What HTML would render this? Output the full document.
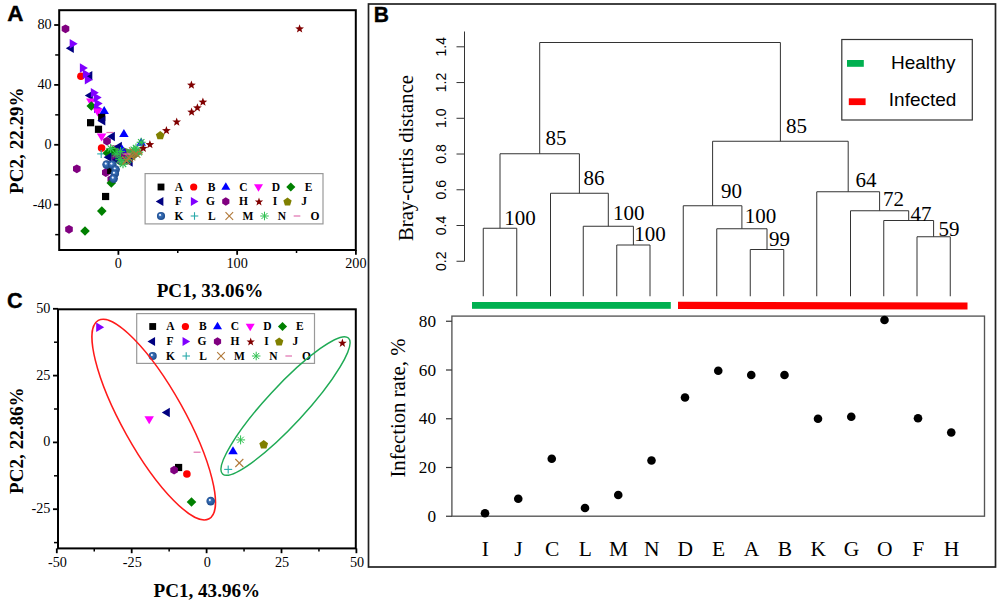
<!DOCTYPE html><html><head><meta charset="utf-8"><style>html,body{margin:0;padding:0;background:#fff;width:1000px;height:606px;overflow:hidden}</style></head><body><svg width="1000" height="606" viewBox="0 0 1000 606" style="position:absolute;left:0;top:0">
<defs><radialGradient id="kg" cx="0.5" cy="0.5" r="0.5" fx="0.36" fy="0.34"><stop offset="0" stop-color="#ffffff"/><stop offset="0.16" stop-color="#dde8ff"/><stop offset="0.34" stop-color="#3a72b8"/><stop offset="1" stop-color="#1d4a8c"/></radialGradient></defs>
<rect x="0" y="0" width="1000" height="606" fill="#fff"/>
<text transform="translate(7.3 20.8) scale(1.07 1.09)" x="0" y="0" font-family='"Liberation Sans", sans-serif' font-size="21" font-weight="bold" stroke="#000" stroke-width="0.35">A</text>
<line x1="118.4" y1="250.0" x2="118.4" y2="254.8" stroke="#000" stroke-width="1.8"/>
<text x="118.4" y="267.8" font-family='"Liberation Serif", serif' font-size="14.2" font-weight="normal" text-anchor="middle" fill="#000">0</text>
<line x1="237.15" y1="250.0" x2="237.15" y2="254.8" stroke="#000" stroke-width="1.8"/>
<text x="237.15" y="267.8" font-family='"Liberation Serif", serif' font-size="14.2" font-weight="normal" text-anchor="middle" fill="#000">100</text>
<line x1="355.9" y1="250.0" x2="355.9" y2="254.8" stroke="#000" stroke-width="1.8"/>
<text x="355.9" y="267.8" font-family='"Liberation Serif", serif' font-size="14.2" font-weight="normal" text-anchor="middle" fill="#000">200</text>
<line x1="177.775" y1="250.0" x2="177.775" y2="253.0" stroke="#000" stroke-width="1.5"/>
<line x1="296.525" y1="250.0" x2="296.525" y2="253.0" stroke="#000" stroke-width="1.5"/>
<line x1="54.2" y1="25.0" x2="59.2" y2="25.0" stroke="#000" stroke-width="1.8"/>
<text x="51.7" y="28.9" font-family='"Liberation Serif", serif' font-size="14.2" font-weight="normal" text-anchor="end" fill="#000">80</text>
<line x1="54.2" y1="84.9" x2="59.2" y2="84.9" stroke="#000" stroke-width="1.8"/>
<text x="51.7" y="88.80000000000001" font-family='"Liberation Serif", serif' font-size="14.2" font-weight="normal" text-anchor="end" fill="#000">40</text>
<line x1="54.2" y1="144.8" x2="59.2" y2="144.8" stroke="#000" stroke-width="1.8"/>
<text x="51.7" y="148.70000000000002" font-family='"Liberation Serif", serif' font-size="14.2" font-weight="normal" text-anchor="end" fill="#000">0</text>
<line x1="54.2" y1="204.70000000000002" x2="59.2" y2="204.70000000000002" stroke="#000" stroke-width="1.8"/>
<text x="51.7" y="208.60000000000002" font-family='"Liberation Serif", serif' font-size="14.2" font-weight="normal" text-anchor="end" fill="#000">-40</text>
<line x1="55.2" y1="54.95" x2="59.2" y2="54.95" stroke="#000" stroke-width="1.5"/>
<line x1="55.2" y1="114.85000000000001" x2="59.2" y2="114.85000000000001" stroke="#000" stroke-width="1.5"/>
<line x1="55.2" y1="174.75" x2="59.2" y2="174.75" stroke="#000" stroke-width="1.5"/>
<line x1="55.2" y1="234.65000000000003" x2="59.2" y2="234.65000000000003" stroke="#000" stroke-width="1.5"/>
<rect x="59.20" y="10.20" width="296.60" height="239.80" fill="none" stroke="#000" stroke-width="2"/>
<text x="156.7" y="296.7" font-family='"Liberation Serif", serif' font-size="19.1" font-weight="bold" text-anchor="start" fill="#000">PC1, 33.06%</text>
<text x="22.9" y="193.9" font-family='"Liberation Serif", serif' font-size="19.1" font-weight="bold" text-anchor="start" fill="#000" transform="rotate(-90 22.9 193.9)">PC2, 22.29%</text>
<polygon points="65.50,33.20 61.69,31.00 61.69,26.60 65.50,24.40 69.31,26.60 69.31,31.00" fill="#800080"/>
<polygon points="65.80,48.30 73.80,43.55 73.80,53.05" fill="#000080"/>
<polygon points="77.70,43.80 69.70,39.05 69.70,48.55" fill="#8000ff"/>
<circle cx="80.90" cy="76.30" r="3.80" fill="#ff0000"/>
<polygon points="87.90,67.90 79.90,63.15 79.90,72.65" fill="#8000ff"/>
<polygon points="84.30,75.80 92.30,71.05 92.30,80.55" fill="#000080"/>
<polygon points="90.80,73.90 82.80,69.15 82.80,78.65" fill="#8000ff"/>
<polygon points="92.80,79.80 84.80,75.05 84.80,84.55" fill="#8000ff"/>
<polygon points="84.80,95.60 92.80,90.85 92.80,100.35" fill="#000080"/>
<polygon points="98.80,92.70 90.80,87.95 90.80,97.45" fill="#8000ff"/>
<polygon points="90.80,106.60 95.55,98.60 86.05,98.60" fill="#ff00ff"/>
<polygon points="101.70,97.60 93.70,92.85 93.70,102.35" fill="#8000ff"/>
<polygon points="102.70,103.60 94.70,98.85 94.70,108.35" fill="#8000ff"/>
<polygon points="91.30,101.20 96.10,106.00 91.30,110.80 86.50,106.00" fill="#008000"/>
<polygon points="102.00,108.50 94.00,103.75 94.00,113.25" fill="#8000ff"/>
<polygon points="97.70,116.50 102.45,108.50 92.95,108.50" fill="#ff00ff"/>
<polygon points="104.20,106.00 108.95,114.00 99.45,114.00" fill="#0000ff"/>
<rect x="98.10" y="113.80" width="7.20" height="7.20" fill="#000000"/>
<polygon points="97.30,120.80 105.30,116.05 105.30,125.55" fill="#000080"/>
<rect x="87.00" y="119.10" width="7.20" height="7.20" fill="#000000"/>
<rect x="94.90" y="125.70" width="7.20" height="7.20" fill="#000000"/>
<line x1="106.4" y1="132.5" x2="113.4" y2="132.5" stroke="#e070b0" stroke-width="1.2"/>
<polygon points="101.60,141.60 106.35,133.60 96.85,133.60" fill="#ff00ff"/>
<polygon points="106.90,136.60 114.90,131.85 114.90,141.35" fill="#000080"/>
<polygon points="123.90,129.10 128.65,137.10 119.15,137.10" fill="#0000ff"/>
<polygon points="107.00,145.50 103.19,143.30 103.19,138.90 107.00,136.70 110.81,138.90 110.81,143.30" fill="#800080"/>
<circle cx="101.60" cy="148.10" r="3.80" fill="#ff0000"/>
<line x1="97.2" y1="153.9" x2="105.2" y2="153.9" stroke="#2aaaaa" stroke-width="1.1"/>
<line x1="101.2" y1="149.9" x2="101.2" y2="157.9" stroke="#2aaaaa" stroke-width="1.1"/>
<polygon points="76.80,173.20 72.99,171.00 72.99,166.60 76.80,164.40 80.61,166.60 80.61,171.00" fill="#800080"/>
<polygon points="110.00,147.00 119.80,146.00 129.70,149.50 133.80,148.50 139.60,149.00 141.50,152.20 137.90,156.40 131.30,161.50 126.40,164.50 119.80,165.50 115.60,162.50 111.50,159.50" fill="#4a9a40"/>
<polygon points="124.00,163.00 140.00,151.00 142.00,153.00 127.00,165.00" fill="#8a7a30"/>
<line x1="110.5" y1="145.6" x2="117.5" y2="145.6" stroke="#e070b0" stroke-width="1.2"/>
<polygon points="113.90,146.50 121.90,141.75 121.90,151.25" fill="#000080"/>
<polygon points="107.40,148.20 112.20,153.00 107.40,157.80 102.60,153.00" fill="#008000"/>
<polygon points="112.70,146.60 117.50,151.40 112.70,156.20 107.90,151.40" fill="#008000"/>
<polygon points="103.60,157.20 111.60,152.45 111.60,161.95" fill="#000080"/>
<polygon points="122.20,155.80 118.39,153.60 118.39,149.20 122.20,147.00 126.01,149.20 126.01,153.60" fill="#800080"/>
<polygon points="115.60,162.40 111.79,160.20 111.79,155.80 115.60,153.60 119.41,155.80 119.41,160.20" fill="#800080"/>
<polygon points="124.70,160.80 120.89,158.60 120.89,154.20 124.70,152.00 128.51,154.20 128.51,158.60" fill="#800080"/>
<polygon points="124.70,162.10 132.70,157.35 132.70,166.85" fill="#000080"/>
<polygon points="122.00,144.50 126.75,152.50 117.25,152.50" fill="#0000ff"/>
<polygon points="112.00,160.00 120.00,155.25 120.00,164.75" fill="#000080"/>
<line x1="117.5" y1="162" x2="124.5" y2="162" stroke="#e070b0" stroke-width="1.2"/>
<line x1="106.2" y1="148.5" x2="115.2" y2="148.5" stroke="#2ec050" stroke-width="1.15"/>
<line x1="107.51801948466054" y1="145.31801948466054" x2="113.88198051533946" y2="151.68198051533946" stroke="#2ec050" stroke-width="1.15"/>
<line x1="110.7" y1="144.0" x2="110.7" y2="153.0" stroke="#2ec050" stroke-width="1.15"/>
<line x1="113.88198051533946" y1="145.31801948466054" x2="107.51801948466054" y2="151.68198051533946" stroke="#2ec050" stroke-width="1.15"/>
<line x1="116.1" y1="151.4" x2="125.1" y2="151.4" stroke="#2ec050" stroke-width="1.15"/>
<line x1="117.41801948466053" y1="148.21801948466054" x2="123.78198051533946" y2="154.58198051533947" stroke="#2ec050" stroke-width="1.15"/>
<line x1="120.6" y1="146.9" x2="120.6" y2="155.9" stroke="#2ec050" stroke-width="1.15"/>
<line x1="123.78198051533946" y1="148.21801948466054" x2="117.41801948466053" y2="154.58198051533947" stroke="#2ec050" stroke-width="1.15"/>
<line x1="129.3" y1="149.8" x2="138.3" y2="149.8" stroke="#2ec050" stroke-width="1.15"/>
<line x1="130.61801948466055" y1="146.61801948466055" x2="136.98198051533947" y2="152.98198051533947" stroke="#2ec050" stroke-width="1.15"/>
<line x1="133.8" y1="145.3" x2="133.8" y2="154.3" stroke="#2ec050" stroke-width="1.15"/>
<line x1="136.98198051533947" y1="146.61801948466055" x2="130.61801948466055" y2="152.98198051533947" stroke="#2ec050" stroke-width="1.15"/>
<line x1="134.2" y1="152.2" x2="143.2" y2="152.2" stroke="#2ec050" stroke-width="1.15"/>
<line x1="135.51801948466053" y1="149.01801948466053" x2="141.88198051533945" y2="155.38198051533945" stroke="#2ec050" stroke-width="1.15"/>
<line x1="138.7" y1="147.7" x2="138.7" y2="156.7" stroke="#2ec050" stroke-width="1.15"/>
<line x1="141.88198051533945" y1="149.01801948466053" x2="135.51801948466053" y2="155.38198051533945" stroke="#2ec050" stroke-width="1.15"/>
<line x1="115.3" y1="159.7" x2="124.3" y2="159.7" stroke="#2ec050" stroke-width="1.15"/>
<line x1="116.61801948466054" y1="156.51801948466053" x2="122.98198051533946" y2="162.88198051533945" stroke="#2ec050" stroke-width="1.15"/>
<line x1="119.8" y1="155.2" x2="119.8" y2="164.2" stroke="#2ec050" stroke-width="1.15"/>
<line x1="122.98198051533946" y1="156.51801948466053" x2="116.61801948466054" y2="162.88198051533945" stroke="#2ec050" stroke-width="1.15"/>
<line x1="123.5" y1="159.7" x2="132.5" y2="159.7" stroke="#2ec050" stroke-width="1.15"/>
<line x1="124.81801948466054" y1="156.51801948466053" x2="131.18198051533946" y2="162.88198051533945" stroke="#2ec050" stroke-width="1.15"/>
<line x1="128.0" y1="155.2" x2="128.0" y2="164.2" stroke="#2ec050" stroke-width="1.15"/>
<line x1="131.18198051533946" y1="156.51801948466053" x2="124.81801948466054" y2="162.88198051533945" stroke="#2ec050" stroke-width="1.15"/>
<line x1="118.5" y1="163.8" x2="127.5" y2="163.8" stroke="#2ec050" stroke-width="1.15"/>
<line x1="119.81801948466054" y1="160.61801948466055" x2="126.18198051533946" y2="166.98198051533947" stroke="#2ec050" stroke-width="1.15"/>
<line x1="123.0" y1="159.3" x2="123.0" y2="168.3" stroke="#2ec050" stroke-width="1.15"/>
<line x1="126.18198051533946" y1="160.61801948466055" x2="119.81801948466054" y2="166.98198051533947" stroke="#2ec050" stroke-width="1.15"/>
<line x1="122.4" y1="156.5" x2="130.4" y2="164.5" stroke="#b07838" stroke-width="1.1"/>
<line x1="122.4" y1="164.5" x2="130.4" y2="156.5" stroke="#b07838" stroke-width="1.1"/>
<line x1="127.30000000000001" y1="152.4" x2="135.3" y2="160.4" stroke="#b07838" stroke-width="1.1"/>
<line x1="127.30000000000001" y1="160.4" x2="135.3" y2="152.4" stroke="#b07838" stroke-width="1.1"/>
<line x1="132.3" y1="149.9" x2="140.3" y2="157.9" stroke="#b07838" stroke-width="1.1"/>
<line x1="132.3" y1="157.9" x2="140.3" y2="149.9" stroke="#b07838" stroke-width="1.1"/>
<line x1="129.0" y1="147.4" x2="137.0" y2="155.4" stroke="#b07838" stroke-width="1.1"/>
<line x1="129.0" y1="155.4" x2="137.0" y2="147.4" stroke="#b07838" stroke-width="1.1"/>
<line x1="125.0" y1="154.0" x2="133.0" y2="162.0" stroke="#b07838" stroke-width="1.1"/>
<line x1="125.0" y1="162.0" x2="133.0" y2="154.0" stroke="#b07838" stroke-width="1.1"/>
<line x1="134.5" y1="146.5" x2="142.5" y2="154.5" stroke="#b07838" stroke-width="1.1"/>
<line x1="134.5" y1="154.5" x2="142.5" y2="146.5" stroke="#b07838" stroke-width="1.1"/>
<line x1="131.5" y1="148.0" x2="140.5" y2="148.0" stroke="#2ec050" stroke-width="1.15"/>
<line x1="132.81801948466054" y1="144.81801948466054" x2="139.18198051533946" y2="151.18198051533946" stroke="#2ec050" stroke-width="1.15"/>
<line x1="136.0" y1="143.5" x2="136.0" y2="152.5" stroke="#2ec050" stroke-width="1.15"/>
<line x1="139.18198051533946" y1="144.81801948466054" x2="132.81801948466054" y2="151.18198051533946" stroke="#2ec050" stroke-width="1.15"/>
<line x1="111.5" y1="154.0" x2="120.5" y2="154.0" stroke="#2ec050" stroke-width="1.15"/>
<line x1="112.81801948466054" y1="150.81801948466054" x2="119.18198051533946" y2="157.18198051533946" stroke="#2ec050" stroke-width="1.15"/>
<line x1="116.0" y1="149.5" x2="116.0" y2="158.5" stroke="#2ec050" stroke-width="1.15"/>
<line x1="119.18198051533946" y1="150.81801948466054" x2="112.81801948466054" y2="157.18198051533946" stroke="#2ec050" stroke-width="1.15"/>
<line x1="123.5" y1="154" x2="130.5" y2="154" stroke="#e070b0" stroke-width="1.2"/>
<polygon points="105.80,176.90 101.99,174.70 101.99,170.30 105.80,168.10 109.61,170.30 109.61,174.70" fill="#800080"/>
<polygon points="111.30,183.70 107.49,181.50 107.49,177.10 111.30,174.90 115.11,177.10 115.11,181.50" fill="#800080"/>
<polygon points="111.30,178.20 116.10,183.00 111.30,187.80 106.50,183.00" fill="#008000"/>
<rect x="107.10" y="166.80" width="7.20" height="7.20" fill="#000000"/>
<circle cx="106.60" cy="164.60" r="4.30" fill="url(#kg)"/>
<circle cx="112.30" cy="164.60" r="4.30" fill="url(#kg)"/>
<circle cx="115.60" cy="169.60" r="4.30" fill="url(#kg)"/>
<circle cx="114.80" cy="173.70" r="4.30" fill="url(#kg)"/>
<circle cx="113.60" cy="178.60" r="4.30" fill="url(#kg)"/>
<rect x="102.00" y="192.90" width="7.20" height="7.20" fill="#000000"/>
<polygon points="101.80,206.30 106.60,211.10 101.80,215.90 97.00,211.10" fill="#008000"/>
<polygon points="69.00,233.70 65.19,231.50 65.19,227.10 69.00,224.90 72.81,227.10 72.81,231.50" fill="#800080"/>
<polygon points="85.00,226.20 89.80,231.00 85.00,235.80 80.20,231.00" fill="#008000"/>
<polygon points="141.20,137.80 145.95,145.80 136.45,145.80" fill="#0000ff"/>
<line x1="136.7" y1="142.3" x2="145.7" y2="142.3" stroke="#2ec050" stroke-width="1.15"/>
<line x1="138.01801948466053" y1="139.11801948466055" x2="144.38198051533945" y2="145.48198051533947" stroke="#2ec050" stroke-width="1.15"/>
<line x1="141.2" y1="137.8" x2="141.2" y2="146.8" stroke="#2ec050" stroke-width="1.15"/>
<line x1="144.38198051533945" y1="139.11801948466055" x2="138.01801948466053" y2="145.48198051533947" stroke="#2ec050" stroke-width="1.15"/>
<polygon points="143.30,143.80 144.42,146.86 147.67,146.98 145.11,148.99 146.00,152.12 143.30,150.30 140.60,152.12 141.49,148.99 138.93,146.98 142.18,146.86" fill="#800000"/>
<polygon points="149.90,140.00 151.02,143.06 154.27,143.18 151.71,145.19 152.60,148.32 149.90,146.50 147.20,148.32 148.09,145.19 145.53,143.18 148.78,143.06" fill="#800000"/>
<polygon points="160.20,131.00 164.57,134.18 162.90,139.32 157.50,139.32 155.83,134.18" fill="#808000"/>
<polygon points="166.40,126.00 167.52,129.06 170.77,129.18 168.21,131.19 169.10,134.32 166.40,132.50 163.70,134.32 164.59,131.19 162.03,129.18 165.28,129.06" fill="#800000"/>
<polygon points="176.70,117.40 177.82,120.46 181.07,120.58 178.51,122.59 179.40,125.72 176.70,123.90 174.00,125.72 174.89,122.59 172.33,120.58 175.58,120.46" fill="#800000"/>
<polygon points="191.60,107.50 192.72,110.56 195.97,110.68 193.41,112.69 194.30,115.82 191.60,114.00 188.90,115.82 189.79,112.69 187.23,110.68 190.48,110.56" fill="#800000"/>
<polygon points="197.40,103.20 198.52,106.26 201.77,106.38 199.21,108.39 200.10,111.52 197.40,109.70 194.70,111.52 195.59,108.39 193.03,106.38 196.28,106.26" fill="#800000"/>
<polygon points="202.90,97.50 204.02,100.56 207.27,100.68 204.71,102.69 205.60,105.82 202.90,104.00 200.20,105.82 201.09,102.69 198.53,100.68 201.78,100.56" fill="#800000"/>
<polygon points="191.40,80.50 192.52,83.56 195.77,83.68 193.21,85.69 194.10,88.82 191.40,87.00 188.70,88.82 189.59,85.69 187.03,83.68 190.28,83.56" fill="#800000"/>
<polygon points="299.60,24.30 300.72,27.36 303.97,27.48 301.41,29.49 302.30,32.62 299.60,30.80 296.90,32.62 297.79,29.49 295.23,27.48 298.48,27.36" fill="#800000"/>
<rect x="145.10" y="173.60" width="177.90" height="50.30" fill="#fff" stroke="#999" stroke-width="1.2"/>
<rect x="157.58" y="183.58" width="6.84" height="6.84" fill="#000000"/>
<text x="179" y="190.6" font-family='"Liberation Serif", serif' font-size="11.5" font-weight="bold" text-anchor="middle" fill="#000">A</text>
<circle cx="193.70" cy="187.00" r="3.61" fill="#ff0000"/>
<text x="211.5" y="190.6" font-family='"Liberation Serif", serif' font-size="11.5" font-weight="bold" text-anchor="middle" fill="#000">B</text>
<polygon points="225.80,182.25 230.31,189.85 221.29,189.85" fill="#0000ff"/>
<text x="243.5" y="190.6" font-family='"Liberation Serif", serif' font-size="11.5" font-weight="bold" text-anchor="middle" fill="#000">C</text>
<polygon points="258.50,191.75 263.01,184.15 253.99,184.15" fill="#ff00ff"/>
<text x="276" y="190.6" font-family='"Liberation Serif", serif' font-size="11.5" font-weight="bold" text-anchor="middle" fill="#000">D</text>
<polygon points="290.80,182.44 295.36,187.00 290.80,191.56 286.24,187.00" fill="#008000"/>
<text x="308.5" y="190.6" font-family='"Liberation Serif", serif' font-size="11.5" font-weight="bold" text-anchor="middle" fill="#000">E</text>
<polygon points="155.75,201.50 163.35,196.99 163.35,206.01" fill="#000080"/>
<text x="178.5" y="205.1" font-family='"Liberation Serif", serif' font-size="11.5" font-weight="bold" text-anchor="middle" fill="#000">F</text>
<polygon points="198.45,201.50 190.85,196.99 190.85,206.01" fill="#8000ff"/>
<text x="210.5" y="205.1" font-family='"Liberation Serif", serif' font-size="11.5" font-weight="bold" text-anchor="middle" fill="#000">G</text>
<polygon points="225.80,205.68 222.18,203.59 222.18,199.41 225.80,197.32 229.42,199.41 229.42,203.59" fill="#800080"/>
<text x="243.5" y="205.1" font-family='"Liberation Serif", serif' font-size="11.5" font-weight="bold" text-anchor="middle" fill="#000">H</text>
<polygon points="259.00,197.51 260.06,200.42 263.16,200.53 260.72,202.44 261.57,205.42 259.00,203.69 256.43,205.42 257.28,202.44 254.84,200.53 257.94,200.42" fill="#800000"/>
<text x="275" y="205.1" font-family='"Liberation Serif", serif' font-size="11.5" font-weight="bold" text-anchor="middle" fill="#000">I</text>
<polygon points="287.50,197.51 291.66,200.53 290.07,205.42 284.93,205.42 283.34,200.53" fill="#808000"/>
<text x="304" y="205.1" font-family='"Liberation Serif", serif' font-size="11.5" font-weight="bold" text-anchor="middle" fill="#000">J</text>
<circle cx="161.00" cy="216.00" r="4.08" fill="url(#kg)"/>
<text x="179" y="219.6" font-family='"Liberation Serif", serif' font-size="11.5" font-weight="bold" text-anchor="middle" fill="#000">K</text>
<line x1="190.7" y1="216" x2="198.3" y2="216" stroke="#2aaaaa" stroke-width="1.1"/>
<line x1="194.5" y1="212.2" x2="194.5" y2="219.8" stroke="#2aaaaa" stroke-width="1.1"/>
<text x="211.8" y="219.6" font-family='"Liberation Serif", serif' font-size="11.5" font-weight="bold" text-anchor="middle" fill="#000">L</text>
<line x1="225.5" y1="212.2" x2="233.10000000000002" y2="219.8" stroke="#b07838" stroke-width="1.1"/>
<line x1="225.5" y1="219.8" x2="233.10000000000002" y2="212.2" stroke="#b07838" stroke-width="1.1"/>
<text x="248" y="219.6" font-family='"Liberation Serif", serif' font-size="11.5" font-weight="bold" text-anchor="middle" fill="#000">M</text>
<line x1="260.225" y1="216.0" x2="268.775" y2="216.0" stroke="#2ec050" stroke-width="1.0"/>
<line x1="261.4771185104275" y1="212.97711851042752" x2="267.5228814895725" y2="219.02288148957248" stroke="#2ec050" stroke-width="1.0"/>
<line x1="264.5" y1="211.725" x2="264.5" y2="220.275" stroke="#2ec050" stroke-width="1.0"/>
<line x1="267.5228814895725" y1="212.97711851042752" x2="261.4771185104275" y2="219.02288148957248" stroke="#2ec050" stroke-width="1.0"/>
<text x="282" y="219.6" font-family='"Liberation Serif", serif' font-size="11.5" font-weight="bold" text-anchor="middle" fill="#000">N</text>
<line x1="293.675" y1="216" x2="300.325" y2="216" stroke="#e070b0" stroke-width="1.2"/>
<text x="315" y="219.6" font-family='"Liberation Serif", serif' font-size="11.5" font-weight="bold" text-anchor="middle" fill="#000">O</text>
<text transform="translate(7.1 308.0) scale(1.03 1.08)" x="0" y="0" font-family='"Liberation Sans", sans-serif' font-size="21" font-weight="bold" stroke="#000" stroke-width="0.35">C</text>
<line x1="56.79999999999998" y1="548.4" x2="56.79999999999998" y2="553.1999999999999" stroke="#000" stroke-width="1.8"/>
<text x="57.399999999999984" y="566.9" font-family='"Liberation Serif", serif' font-size="14.2" font-weight="normal" text-anchor="middle" fill="#000">-50</text>
<line x1="131.7" y1="548.4" x2="131.7" y2="553.1999999999999" stroke="#000" stroke-width="1.8"/>
<text x="132.29999999999998" y="566.9" font-family='"Liberation Serif", serif' font-size="14.2" font-weight="normal" text-anchor="middle" fill="#000">-25</text>
<line x1="206.6" y1="548.4" x2="206.6" y2="553.1999999999999" stroke="#000" stroke-width="1.8"/>
<text x="207.2" y="566.9" font-family='"Liberation Serif", serif' font-size="14.2" font-weight="normal" text-anchor="middle" fill="#000">0</text>
<line x1="281.5" y1="548.4" x2="281.5" y2="553.1999999999999" stroke="#000" stroke-width="1.8"/>
<text x="282.1" y="566.9" font-family='"Liberation Serif", serif' font-size="14.2" font-weight="normal" text-anchor="middle" fill="#000">25</text>
<line x1="356.4" y1="548.4" x2="356.4" y2="553.1999999999999" stroke="#000" stroke-width="1.8"/>
<text x="357.0" y="566.9" font-family='"Liberation Serif", serif' font-size="14.2" font-weight="normal" text-anchor="middle" fill="#000">50</text>
<line x1="94.25" y1="548.4" x2="94.25" y2="551.4" stroke="#000" stroke-width="1.5"/>
<line x1="169.14999999999998" y1="548.4" x2="169.14999999999998" y2="551.4" stroke="#000" stroke-width="1.5"/>
<line x1="244.05" y1="548.4" x2="244.05" y2="551.4" stroke="#000" stroke-width="1.5"/>
<line x1="318.95" y1="548.4" x2="318.95" y2="551.4" stroke="#000" stroke-width="1.5"/>
<line x1="53.0" y1="308.79999999999995" x2="58.0" y2="308.79999999999995" stroke="#000" stroke-width="1.8"/>
<text x="50.4" y="312.69999999999993" font-family='"Liberation Serif", serif' font-size="14.2" font-weight="normal" text-anchor="end" fill="#000">50</text>
<line x1="53.0" y1="375.59999999999997" x2="58.0" y2="375.59999999999997" stroke="#000" stroke-width="1.8"/>
<text x="50.4" y="379.49999999999994" font-family='"Liberation Serif", serif' font-size="14.2" font-weight="normal" text-anchor="end" fill="#000">25</text>
<line x1="53.0" y1="442.4" x2="58.0" y2="442.4" stroke="#000" stroke-width="1.8"/>
<text x="50.4" y="446.29999999999995" font-family='"Liberation Serif", serif' font-size="14.2" font-weight="normal" text-anchor="end" fill="#000">0</text>
<line x1="53.0" y1="509.2" x2="58.0" y2="509.2" stroke="#000" stroke-width="1.8"/>
<text x="50.4" y="513.1" font-family='"Liberation Serif", serif' font-size="14.2" font-weight="normal" text-anchor="end" fill="#000">-25</text>
<line x1="54.0" y1="342.2" x2="58.0" y2="342.2" stroke="#000" stroke-width="1.5"/>
<line x1="54.0" y1="409.0" x2="58.0" y2="409.0" stroke="#000" stroke-width="1.5"/>
<line x1="54.0" y1="475.79999999999995" x2="58.0" y2="475.79999999999995" stroke="#000" stroke-width="1.5"/>
<line x1="54.0" y1="542.6" x2="58.0" y2="542.6" stroke="#000" stroke-width="1.5"/>
<rect x="58.00" y="309.30" width="297.80" height="239.10" fill="none" stroke="#000" stroke-width="2"/>
<text x="153.5" y="596.8" font-family='"Liberation Serif", serif' font-size="19.1" font-weight="bold" text-anchor="start" fill="#000">PC1, 43.96%</text>
<text x="22.8" y="493.9" font-family='"Liberation Serif", serif' font-size="19.1" font-weight="bold" text-anchor="start" fill="#000" transform="rotate(-90 22.8 493.9)">PC2, 22.86%</text>
<rect x="136.70" y="313.60" width="177.80" height="49.80" fill="#fff" stroke="#999" stroke-width="1.2"/>
<rect x="149.28" y="323.08" width="6.84" height="6.84" fill="#000000"/>
<text x="170.4" y="330.1" font-family='"Liberation Serif", serif' font-size="11.5" font-weight="bold" text-anchor="middle" fill="#000">A</text>
<circle cx="185.40" cy="326.50" r="3.61" fill="#ff0000"/>
<text x="202.9" y="330.1" font-family='"Liberation Serif", serif' font-size="11.5" font-weight="bold" text-anchor="middle" fill="#000">B</text>
<polygon points="217.50,321.75 222.01,329.35 212.99,329.35" fill="#0000ff"/>
<text x="234.9" y="330.1" font-family='"Liberation Serif", serif' font-size="11.5" font-weight="bold" text-anchor="middle" fill="#000">C</text>
<polygon points="250.20,331.25 254.71,323.65 245.69,323.65" fill="#ff00ff"/>
<text x="267.4" y="330.1" font-family='"Liberation Serif", serif' font-size="11.5" font-weight="bold" text-anchor="middle" fill="#000">D</text>
<polygon points="282.50,321.94 287.06,326.50 282.50,331.06 277.94,326.50" fill="#008000"/>
<text x="299.9" y="330.1" font-family='"Liberation Serif", serif' font-size="11.5" font-weight="bold" text-anchor="middle" fill="#000">E</text>
<polygon points="147.45,341.50 155.05,336.99 155.05,346.01" fill="#000080"/>
<text x="169.9" y="345.1" font-family='"Liberation Serif", serif' font-size="11.5" font-weight="bold" text-anchor="middle" fill="#000">F</text>
<polygon points="190.15,341.50 182.55,336.99 182.55,346.01" fill="#8000ff"/>
<text x="201.9" y="345.1" font-family='"Liberation Serif", serif' font-size="11.5" font-weight="bold" text-anchor="middle" fill="#000">G</text>
<polygon points="217.50,345.68 213.88,343.59 213.88,339.41 217.50,337.32 221.12,339.41 221.12,343.59" fill="#800080"/>
<text x="234.9" y="345.1" font-family='"Liberation Serif", serif' font-size="11.5" font-weight="bold" text-anchor="middle" fill="#000">H</text>
<polygon points="250.70,337.51 251.76,340.42 254.86,340.53 252.42,342.44 253.27,345.42 250.70,343.69 248.13,345.42 248.98,342.44 246.54,340.53 249.64,340.42" fill="#800000"/>
<text x="266.4" y="345.1" font-family='"Liberation Serif", serif' font-size="11.5" font-weight="bold" text-anchor="middle" fill="#000">I</text>
<polygon points="279.20,337.51 283.36,340.53 281.77,345.42 276.63,345.42 275.04,340.53" fill="#808000"/>
<text x="295.4" y="345.1" font-family='"Liberation Serif", serif' font-size="11.5" font-weight="bold" text-anchor="middle" fill="#000">J</text>
<circle cx="152.70" cy="356.00" r="4.08" fill="url(#kg)"/>
<text x="170.4" y="359.6" font-family='"Liberation Serif", serif' font-size="11.5" font-weight="bold" text-anchor="middle" fill="#000">K</text>
<line x1="182.39999999999998" y1="356" x2="190.0" y2="356" stroke="#2aaaaa" stroke-width="1.1"/>
<line x1="186.2" y1="352.2" x2="186.2" y2="359.8" stroke="#2aaaaa" stroke-width="1.1"/>
<text x="203.20000000000002" y="359.6" font-family='"Liberation Serif", serif' font-size="11.5" font-weight="bold" text-anchor="middle" fill="#000">L</text>
<line x1="217.2" y1="352.2" x2="224.8" y2="359.8" stroke="#b07838" stroke-width="1.1"/>
<line x1="217.2" y1="359.8" x2="224.8" y2="352.2" stroke="#b07838" stroke-width="1.1"/>
<text x="239.4" y="359.6" font-family='"Liberation Serif", serif' font-size="11.5" font-weight="bold" text-anchor="middle" fill="#000">M</text>
<line x1="251.92499999999998" y1="356.0" x2="260.47499999999997" y2="356.0" stroke="#2ec050" stroke-width="1.0"/>
<line x1="253.1771185104275" y1="352.9771185104275" x2="259.2228814895725" y2="359.0228814895725" stroke="#2ec050" stroke-width="1.0"/>
<line x1="256.2" y1="351.725" x2="256.2" y2="360.275" stroke="#2ec050" stroke-width="1.0"/>
<line x1="259.2228814895725" y1="352.9771185104275" x2="253.1771185104275" y2="359.0228814895725" stroke="#2ec050" stroke-width="1.0"/>
<text x="273.4" y="359.6" font-family='"Liberation Serif", serif' font-size="11.5" font-weight="bold" text-anchor="middle" fill="#000">N</text>
<line x1="285.375" y1="356" x2="292.025" y2="356" stroke="#e070b0" stroke-width="1.2"/>
<text x="306.4" y="359.6" font-family='"Liberation Serif", serif' font-size="11.5" font-weight="bold" text-anchor="middle" fill="#000">O</text>
<ellipse cx="153.7" cy="419.6" rx="113.6" ry="31.1" transform="rotate(60.8 153.7 419.6)" fill="none" stroke="#ff1a1a" stroke-width="1.5"/>
<ellipse cx="285.5" cy="406" rx="92.6" ry="19.25" transform="rotate(-47.2 285.5 406)" fill="none" stroke="#1faa55" stroke-width="1.5"/>
<polygon points="104.20,327.20 96.20,322.45 96.20,331.95" fill="#8000ff"/>
<polygon points="149.20,424.30 153.95,416.30 144.45,416.30" fill="#ff00ff"/>
<polygon points="161.80,412.50 169.80,407.75 169.80,417.25" fill="#000080"/>
<polygon points="342.40,338.60 343.52,341.66 346.77,341.78 344.21,343.79 345.10,346.92 342.40,345.10 339.70,346.92 340.59,343.79 338.03,341.78 341.28,341.66" fill="#800000"/>
<polygon points="263.70,440.10 268.07,443.28 266.40,448.42 261.00,448.42 259.33,443.28" fill="#808000"/>
<line x1="236.1" y1="439.9" x2="245.1" y2="439.9" stroke="#2ec050" stroke-width="1.0"/>
<line x1="237.41801948466053" y1="436.7180194846605" x2="243.78198051533946" y2="443.08198051533947" stroke="#2ec050" stroke-width="1.0"/>
<line x1="240.6" y1="435.4" x2="240.6" y2="444.4" stroke="#2ec050" stroke-width="1.0"/>
<line x1="243.78198051533946" y1="436.7180194846605" x2="237.41801948466053" y2="443.08198051533947" stroke="#2ec050" stroke-width="1.0"/>
<polygon points="233.00,446.20 237.75,454.20 228.25,454.20" fill="#0000ff"/>
<line x1="235.3" y1="459.0" x2="243.3" y2="467.0" stroke="#b07838" stroke-width="1.1"/>
<line x1="235.3" y1="467.0" x2="243.3" y2="459.0" stroke="#b07838" stroke-width="1.1"/>
<line x1="224.2" y1="469.4" x2="232.2" y2="469.4" stroke="#2aaaaa" stroke-width="1.1"/>
<line x1="228.2" y1="465.4" x2="228.2" y2="473.4" stroke="#2aaaaa" stroke-width="1.1"/>
<line x1="193.6" y1="452.2" x2="200.6" y2="452.2" stroke="#e070b0" stroke-width="1.2"/>
<rect x="175.00" y="463.90" width="7.20" height="7.20" fill="#000000"/>
<polygon points="174.10,474.50 170.29,472.30 170.29,467.90 174.10,465.70 177.91,467.90 177.91,472.30" fill="#800080"/>
<circle cx="186.90" cy="474.00" r="3.80" fill="#ff0000"/>
<polygon points="191.50,497.20 196.30,502.00 191.50,506.80 186.70,502.00" fill="#008000"/>
<circle cx="210.70" cy="501.10" r="4.30" fill="url(#kg)"/>
<rect x="368.5" y="4" width="627" height="563" fill="none" stroke="#222" stroke-width="1.7"/>
<text transform="translate(373.7 21.8) scale(1.0 1.08)" x="0" y="0" font-family='"Liberation Sans", sans-serif' font-size="21" font-weight="bold" stroke="#000" stroke-width="0.35">B</text>
<line x1="464.5" y1="31.5" x2="464.5" y2="261.25" stroke="#333" stroke-width="1"/>
<line x1="456.5" y1="261.25" x2="464.5" y2="261.25" stroke="#333" stroke-width="1"/>
<text x="446.3" y="261.25" font-family='"Liberation Sans", sans-serif' font-size="14" font-weight="normal" text-anchor="middle" fill="#000" transform="rotate(-90 446.3 261.25)">0.2</text>
<line x1="456.5" y1="225.51" x2="464.5" y2="225.51" stroke="#333" stroke-width="1"/>
<text x="446.3" y="225.51" font-family='"Liberation Sans", sans-serif' font-size="14" font-weight="normal" text-anchor="middle" fill="#000" transform="rotate(-90 446.3 225.51)">0.4</text>
<line x1="456.5" y1="189.76999999999998" x2="464.5" y2="189.76999999999998" stroke="#333" stroke-width="1"/>
<text x="446.3" y="189.76999999999998" font-family='"Liberation Sans", sans-serif' font-size="14" font-weight="normal" text-anchor="middle" fill="#000" transform="rotate(-90 446.3 189.76999999999998)">0.6</text>
<line x1="456.5" y1="154.03" x2="464.5" y2="154.03" stroke="#333" stroke-width="1"/>
<text x="446.3" y="154.03" font-family='"Liberation Sans", sans-serif' font-size="14" font-weight="normal" text-anchor="middle" fill="#000" transform="rotate(-90 446.3 154.03)">0.8</text>
<line x1="456.5" y1="118.28999999999999" x2="464.5" y2="118.28999999999999" stroke="#333" stroke-width="1"/>
<text x="446.3" y="118.28999999999999" font-family='"Liberation Sans", sans-serif' font-size="14" font-weight="normal" text-anchor="middle" fill="#000" transform="rotate(-90 446.3 118.28999999999999)">1.0</text>
<line x1="456.5" y1="82.54999999999998" x2="464.5" y2="82.54999999999998" stroke="#333" stroke-width="1"/>
<text x="446.3" y="82.54999999999998" font-family='"Liberation Sans", sans-serif' font-size="14" font-weight="normal" text-anchor="middle" fill="#000" transform="rotate(-90 446.3 82.54999999999998)">1.2</text>
<line x1="456.5" y1="46.81" x2="464.5" y2="46.81" stroke="#333" stroke-width="1"/>
<text x="446.3" y="46.81" font-family='"Liberation Sans", sans-serif' font-size="14" font-weight="normal" text-anchor="middle" fill="#000" transform="rotate(-90 446.3 46.81)">1.4</text>
<text x="413.2" y="158" font-family='"Liberation Serif", serif' font-size="20.7" font-weight="normal" text-anchor="middle" fill="#000" transform="rotate(-90 413.2 158)">Bray-curtis distance</text>
<polyline points="483.25,296.25 483.25,228.25 516.75,228.25 516.75,296.25" fill="none" stroke="#333" stroke-width="1"/>
<polyline points="616.75,296.25 616.75,245.00 650.00,245.00 650.00,296.25" fill="none" stroke="#333" stroke-width="1"/>
<polyline points="583.25,296.25 583.25,226.25 633.40,226.25 633.40,245.00" fill="none" stroke="#333" stroke-width="1"/>
<polyline points="550.50,296.25 550.50,193.25 608.30,193.25 608.30,226.25" fill="none" stroke="#333" stroke-width="1"/>
<polyline points="500.00,228.25 500.00,153.75 579.40,153.75 579.40,193.25" fill="none" stroke="#333" stroke-width="1"/>
<polyline points="750.25,296.25 750.25,249.50 783.75,249.50 783.75,296.25" fill="none" stroke="#333" stroke-width="1"/>
<polyline points="716.75,296.25 716.75,228.75 767.00,228.75 767.00,249.50" fill="none" stroke="#333" stroke-width="1"/>
<polyline points="683.25,296.25 683.25,205.75 741.90,205.75 741.90,228.75" fill="none" stroke="#333" stroke-width="1"/>
<polyline points="917.00,296.25 917.00,236.75 950.25,236.75 950.25,296.25" fill="none" stroke="#333" stroke-width="1"/>
<polyline points="883.75,296.25 883.75,220.50 933.60,220.50 933.60,236.75" fill="none" stroke="#333" stroke-width="1"/>
<polyline points="850.50,296.25 850.50,210.75 908.70,210.75 908.70,220.50" fill="none" stroke="#333" stroke-width="1"/>
<polyline points="816.75,296.25 816.75,191.75 879.60,191.75 879.60,210.75" fill="none" stroke="#333" stroke-width="1"/>
<polyline points="712.60,205.75 712.60,141.25 848.20,141.25 848.20,191.75" fill="none" stroke="#333" stroke-width="1"/>
<polyline points="539.70,153.75 539.70,42.50 780.40,42.50 780.40,141.25" fill="none" stroke="#333" stroke-width="1"/>
<text x="504.33" y="225.3" font-family='"Liberation Serif", serif' font-size="21" font-weight="normal" text-anchor="start" fill="#000">100</text>
<text x="545.53" y="144.5" font-family='"Liberation Serif", serif' font-size="21" font-weight="normal" text-anchor="start" fill="#000">85</text>
<text x="583.53" y="184.5" font-family='"Liberation Serif", serif' font-size="21" font-weight="normal" text-anchor="start" fill="#000">86</text>
<text x="613.03" y="219.5" font-family='"Liberation Serif", serif' font-size="21" font-weight="normal" text-anchor="start" fill="#000">100</text>
<text x="634.28" y="240.5" font-family='"Liberation Serif", serif' font-size="21" font-weight="normal" text-anchor="start" fill="#000">100</text>
<text x="721.03" y="198" font-family='"Liberation Serif", serif' font-size="21" font-weight="normal" text-anchor="start" fill="#000">90</text>
<text x="744.78" y="223.25" font-family='"Liberation Serif", serif' font-size="21" font-weight="normal" text-anchor="start" fill="#000">100</text>
<text x="769.03" y="246.25" font-family='"Liberation Serif", serif' font-size="21" font-weight="normal" text-anchor="start" fill="#000">99</text>
<text x="786.03" y="132.5" font-family='"Liberation Serif", serif' font-size="21" font-weight="normal" text-anchor="start" fill="#000">85</text>
<text x="855.53" y="186.75" font-family='"Liberation Serif", serif' font-size="21" font-weight="normal" text-anchor="start" fill="#000">64</text>
<text x="883.03" y="205.5" font-family='"Liberation Serif", serif' font-size="21" font-weight="normal" text-anchor="start" fill="#000">72</text>
<text x="910.53" y="221.25" font-family='"Liberation Serif", serif' font-size="21" font-weight="normal" text-anchor="start" fill="#000">47</text>
<text x="938.53" y="235.75" font-family='"Liberation Serif", serif' font-size="21" font-weight="normal" text-anchor="start" fill="#000">59</text>
<rect x="841.8" y="39.5" width="130.5" height="80.5" fill="#fff" stroke="#333" stroke-width="1.2"/>
<rect x="847" y="60" width="16.8" height="6.8" fill="#00b050"/>
<rect x="848.8" y="98.3" width="16.8" height="6.8" fill="#ff0000"/>
<text x="890.98" y="68.8" font-family='"Liberation Sans", sans-serif' font-size="19" font-weight="normal" text-anchor="start" fill="#000">Healthy</text>
<text x="888.79" y="106.3" font-family='"Liberation Sans", sans-serif' font-size="19" font-weight="normal" text-anchor="start" fill="#000">Infected</text>
<rect x="472" y="302" width="198.8" height="6.8" fill="#00b050"/>
<polygon points="678,301.8 967.5,302.5 967.5,309.5 678,309" fill="#ff0000"/>
<rect x="451.9" y="316.1" width="532.6" height="200.1" fill="none" stroke="#555" stroke-width="1.35"/>
<line x1="446.0" y1="516.25" x2="451.9" y2="516.25" stroke="#333" stroke-width="1.2"/>
<text x="436" y="521.95" font-family='"Liberation Serif", serif' font-size="17.2" font-weight="normal" text-anchor="end" fill="#000">0</text>
<line x1="446.0" y1="467.5" x2="451.9" y2="467.5" stroke="#333" stroke-width="1.2"/>
<text x="436" y="473.2" font-family='"Liberation Serif", serif' font-size="17.2" font-weight="normal" text-anchor="end" fill="#000">20</text>
<line x1="446.0" y1="418.75" x2="451.9" y2="418.75" stroke="#333" stroke-width="1.2"/>
<text x="436" y="424.45" font-family='"Liberation Serif", serif' font-size="17.2" font-weight="normal" text-anchor="end" fill="#000">40</text>
<line x1="446.0" y1="370.0" x2="451.9" y2="370.0" stroke="#333" stroke-width="1.2"/>
<text x="436" y="375.7" font-family='"Liberation Serif", serif' font-size="17.2" font-weight="normal" text-anchor="end" fill="#000">60</text>
<line x1="446.0" y1="321.25" x2="451.9" y2="321.25" stroke="#333" stroke-width="1.2"/>
<text x="436" y="326.95" font-family='"Liberation Serif", serif' font-size="17.2" font-weight="normal" text-anchor="end" fill="#000">80</text>
<text x="405" y="408" font-family='"Liberation Serif", serif' font-size="20.8" font-weight="normal" text-anchor="middle" fill="#000" transform="rotate(-90 405 408)">Infection rate, %</text>
<circle cx="485.00" cy="513.25" r="4.3" fill="#000"/>
<circle cx="518.25" cy="498.75" r="4.3" fill="#000"/>
<circle cx="551.75" cy="458.75" r="4.3" fill="#000"/>
<circle cx="585.00" cy="508.00" r="4.3" fill="#000"/>
<circle cx="618.25" cy="495.00" r="4.3" fill="#000"/>
<circle cx="651.50" cy="460.50" r="4.3" fill="#000"/>
<circle cx="685.00" cy="397.50" r="4.3" fill="#000"/>
<circle cx="718.25" cy="370.75" r="4.3" fill="#000"/>
<circle cx="751.25" cy="375.00" r="4.3" fill="#000"/>
<circle cx="784.50" cy="375.00" r="4.3" fill="#000"/>
<circle cx="818.00" cy="418.75" r="4.3" fill="#000"/>
<circle cx="851.25" cy="416.75" r="4.3" fill="#000"/>
<circle cx="884.50" cy="320.00" r="4.3" fill="#000"/>
<circle cx="918.00" cy="418.25" r="4.3" fill="#000"/>
<circle cx="951.25" cy="432.50" r="4.3" fill="#000"/>
<text x="485.3" y="555.5" font-family='"Liberation Serif", serif' font-size="21.5" font-weight="normal" text-anchor="middle" fill="#000">I</text>
<text x="518.55" y="555.5" font-family='"Liberation Serif", serif' font-size="21.5" font-weight="normal" text-anchor="middle" fill="#000">J</text>
<text x="552.05" y="555.5" font-family='"Liberation Serif", serif' font-size="21.5" font-weight="normal" text-anchor="middle" fill="#000">C</text>
<text x="585.3" y="555.5" font-family='"Liberation Serif", serif' font-size="21.5" font-weight="normal" text-anchor="middle" fill="#000">L</text>
<text x="618.55" y="555.5" font-family='"Liberation Serif", serif' font-size="21.5" font-weight="normal" text-anchor="middle" fill="#000">M</text>
<text x="651.8" y="555.5" font-family='"Liberation Serif", serif' font-size="21.5" font-weight="normal" text-anchor="middle" fill="#000">N</text>
<text x="685.3" y="555.5" font-family='"Liberation Serif", serif' font-size="21.5" font-weight="normal" text-anchor="middle" fill="#000">D</text>
<text x="718.55" y="555.5" font-family='"Liberation Serif", serif' font-size="21.5" font-weight="normal" text-anchor="middle" fill="#000">E</text>
<text x="751.55" y="555.5" font-family='"Liberation Serif", serif' font-size="21.5" font-weight="normal" text-anchor="middle" fill="#000">A</text>
<text x="784.8" y="555.5" font-family='"Liberation Serif", serif' font-size="21.5" font-weight="normal" text-anchor="middle" fill="#000">B</text>
<text x="818.3" y="555.5" font-family='"Liberation Serif", serif' font-size="21.5" font-weight="normal" text-anchor="middle" fill="#000">K</text>
<text x="851.55" y="555.5" font-family='"Liberation Serif", serif' font-size="21.5" font-weight="normal" text-anchor="middle" fill="#000">G</text>
<text x="884.8" y="555.5" font-family='"Liberation Serif", serif' font-size="21.5" font-weight="normal" text-anchor="middle" fill="#000">O</text>
<text x="918.3" y="555.5" font-family='"Liberation Serif", serif' font-size="21.5" font-weight="normal" text-anchor="middle" fill="#000">F</text>
<text x="951.55" y="555.5" font-family='"Liberation Serif", serif' font-size="21.5" font-weight="normal" text-anchor="middle" fill="#000">H</text>
</svg></body></html>
